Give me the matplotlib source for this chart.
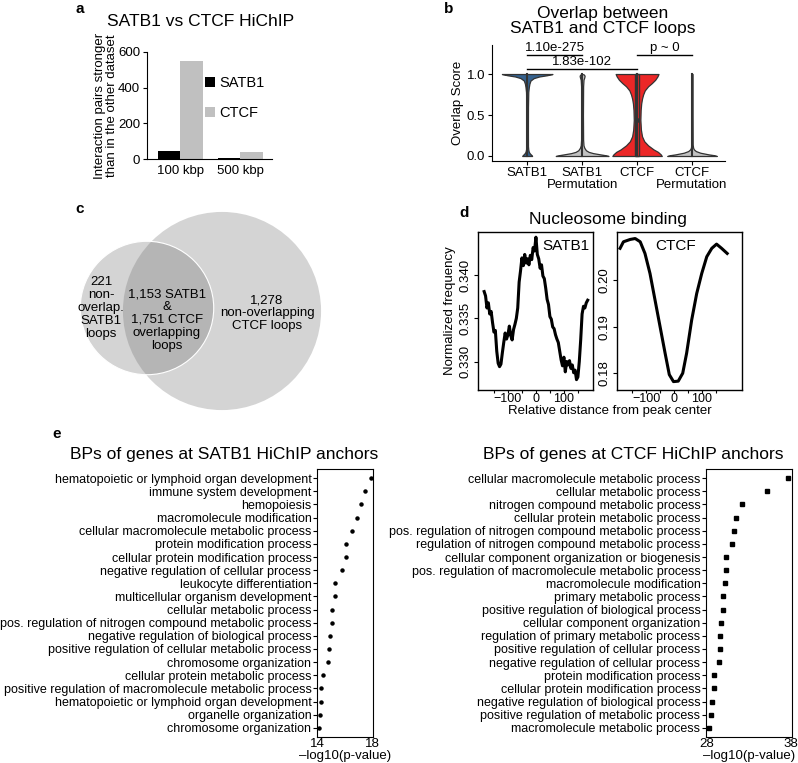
import numpy as np
import matplotlib
matplotlib.use("Agg")
import matplotlib.pyplot as plt
from matplotlib.patches import Circle, Rectangle

plt.rcParams['font.family'] = ['Liberation Sans', 'DejaVu Sans']

W, H = 798, 763

# ---- panel a data
size_labels = ["100 kbp", "500 kbp"]
satb1_stronger = [45, 4]
ctcf_stronger = [550, 40]

# ---- panel b data (violin outlines: y level, half width)
violin_names = ["SATB1", "SATB1\nPermutation", "CTCF", "CTCF\nPermutation"]
violin_colors = ["#34618e", "#c2c2c2", "#ec2727", "#c2c2c2"]
satb1_vy = [0.0, 0.01, 0.03, 0.05, 0.08, 0.12, 0.3, 0.6, 0.78, 0.84, 0.88, 0.92, 0.95, 0.97, 0.985, 1.0]
satb1_vw = [0.09, 0.08, 0.05, 0.03, 0.02, 0.015, 0.014, 0.015, 0.02, 0.03, 0.04, 0.06, 0.12, 0.22, 0.36, 0.46]
satb1p_vy = [0.0, 0.01, 0.02, 0.035, 0.05, 0.07, 0.1, 0.13, 0.2, 0.5, 0.85, 0.93, 0.96, 0.98, 0.995, 1.0]
satb1p_vw = [0.48, 0.42, 0.33, 0.2, 0.12, 0.07, 0.04, 0.025, 0.018, 0.015, 0.018, 0.025, 0.04, 0.045, 0.03, 0.0]
ctcf_vy = [0.0, 0.02, 0.05, 0.08, 0.13, 0.18, 0.24, 0.32, 0.44, 0.56, 0.64, 0.70, 0.75, 0.80, 0.85, 0.89, 0.93, 0.97, 1.0]
ctcf_vw = [0.45, 0.43, 0.38, 0.3, 0.2, 0.13, 0.09, 0.07, 0.06, 0.065, 0.075, 0.09, 0.11, 0.14, 0.2, 0.27, 0.33, 0.37, 0.39]
ctcfp_vy = [0.0, 0.01, 0.02, 0.04, 0.06, 0.08, 0.1, 0.14, 0.5, 1.0]
ctcfp_vw = [0.45, 0.4, 0.3, 0.15, 0.07, 0.035, 0.02, 0.012, 0.01, 0.01]
ctcf_median = 0.44
brackets = [(1, 2, 1.23, "1.10e-275"), (1, 3, 1.06, "1.83e-102"), (3, 4, 1.23, "p ~ 0")]

# ---- panel c data
satb1_only = 221
satb1_overlap = 1153
ctcf_overlap = 1751
ctcf_only = 1278

# ---- panel d data
satb1_pos = [-185, -180, -175, -170, -165, -160, -155, -150, -145, -140, -135, -130, -125, -120, -115,
             -110, -105, -100, -95, -90, -85, -80, -75, -70, -65, -60, -55, -50, -45, -40, -35, -30,
             -25, -20, -15, -10, -5, 0, 5, 10, 15, 20, 25, 30, 35, 40, 45, 50, 55, 60, 65, 70, 75, 80,
             85, 90, 95, 100, 105, 110, 115, 120, 125, 130, 135, 140, 145, 150, 155, 160, 165, 170,
             175, 180, 185]
satb1_freq = [0.3381, 0.3376, 0.3362, 0.3368, 0.3355, 0.3358, 0.3345, 0.3334, 0.3336, 0.3312, 0.3298,
              0.3294, 0.3297, 0.3310, 0.3322, 0.3333, 0.3326, 0.3331, 0.3341, 0.3330, 0.3325, 0.3337,
              0.3343, 0.3350, 0.3362, 0.3392, 0.3405, 0.3420, 0.3411, 0.3424, 0.3414, 0.3419, 0.3412,
              0.3423, 0.3418, 0.3432, 0.3428, 0.3444, 0.3424, 0.3419, 0.3408, 0.3412, 0.3399, 0.3396,
              0.3385, 0.3372, 0.3366, 0.3352, 0.3349, 0.3340, 0.3338, 0.3331, 0.3326, 0.3322, 0.3312,
              0.3302, 0.3295, 0.3305, 0.3288, 0.3300, 0.3296, 0.3301, 0.3292, 0.3296, 0.3287, 0.3290,
              0.3279, 0.3282, 0.3300, 0.3325, 0.3355, 0.3364, 0.3362, 0.3368, 0.3371]
ctcf_pos = [-193, -181, -157, -139, -121, -104, -86, -68, -50, -32, -17, -2, 15, 31, 45, 63, 81, 99,
            117, 135, 152, 170, 190]
ctcf_freq = [0.2068, 0.2082, 0.2087, 0.2089, 0.2082, 0.2057, 0.2014, 0.1957, 0.1900, 0.1843, 0.1797,
             0.1782, 0.1783, 0.1800, 0.1843, 0.1914, 0.1971, 0.2014, 0.2050, 0.2068, 0.2077, 0.2068,
             0.2057]

# ---- panel e data
satb1_terms = ["hematopoietic or lymphoid organ development", "immune system development",
               "hemopoiesis", "macromolecule modification",
               "cellular macromolecule metabolic process", "protein modification process",
               "cellular protein modification process", "negative regulation of cellular process",
               "leukocyte differentiation", "multicellular organism development",
               "cellular metabolic process", "pos. regulation of nitrogen compound metabolic process",
               "negative regulation of biological process",
               "positive regulation of cellular metabolic process", "chromosome organization",
               "cellular protein metabolic process",
               "positive regulation of macromolecule metabolic process",
               "hematopoietic or lymphoid organ development", "organelle organization",
               "chromosome organization"]
satb1_logp = [17.9, 17.5, 17.19, 16.9, 16.52, 16.07, 16.07, 15.76, 15.29, 15.24, 15.05, 15.05,
              14.88, 14.81, 14.76, 14.41, 14.26, 14.21, 14.16, 14.09]
ctcf_terms = ["cellular macromolecule metabolic process", "cellular metabolic process",
              "nitrogen compound metabolic process", "cellular protein metabolic process",
              "pos. regulation of nitrogen compound metabolic process",
              "regulation of nitrogen compound metabolic process",
              "cellular component organization or biogenesis",
              "pos. regulation of macromolecule metabolic process", "macromolecule modification",
              "primary metabolic process", "positive regulation of biological process",
              "cellular component organization", "regulation of primary metabolic process",
              "positive regulation of cellular process", "negative regulation of cellular process",
              "protein modification process", "cellular protein modification process",
              "negative regulation of biological process", "positive regulation of metabolic process",
              "macromolecule metabolic process"]
ctcf_logp = [37.57, 35.17, 32.15, 31.49, 31.17, 30.99, 30.33, 30.33, 30.21, 29.94, 29.94, 29.63,
             29.55, 29.55, 29.43, 28.85, 28.85, 28.58, 28.47, 28.27]

fig = plt.figure(figsize=(W / 100, H / 100), dpi=100)


def px_axes(x0, y0, x1, y1):
    return fig.add_axes([x0 / W, 1 - y1 / H, (x1 - x0) / W, (y1 - y0) / H])


def ftext(x, y, s, **kw):
    kw.setdefault("ha", "center")
    kw.setdefault("va", "center")
    fig.text(x / W, 1 - y / H, s, **kw)


# panel letters
for letter, lx, ly in [("a", 80, 9), ("b", 449, 9), ("c", 80, 209), ("d", 464, 213), ("e", 57, 434)]:
    ftext(lx, ly, letter, fontsize=11, fontweight="bold")

# ---------------- a
ax = px_axes(147, 52, 272, 159)
xa = np.arange(len(size_labels))
ax.bar(xa - 0.1875, satb1_stronger, 0.375, color="black", label="SATB1")
ax.bar(xa + 0.1875, ctcf_stronger, 0.375, color="#c0c0c0", label="CTCF")
ax.set_xlim(-0.55, 1.53)
ax.set_ylim(0, 600)
ax.set_yticks([0, 200, 400, 600])
ax.set_xticks(xa)
ax.set_xticklabels(size_labels)
ax.tick_params(axis="x", length=0, labelsize=9.5, pad=4)
ax.tick_params(axis="y", length=3, labelsize=9.5, pad=2)
for s in ["top", "right"]:
    ax.spines[s].set_visible(False)
ax.set_ylabel("Interaction pairs stronger\nthan in the other dataset", fontsize=9.5, labelpad=0,
              linespacing=0.95)
ax.legend(loc="center left", bbox_to_anchor=(0.46, 0.57), frameon=False, fontsize=10.5,
          handlelength=0.7, handleheight=0.7, handletextpad=0.3, labelspacing=1.1,
          borderpad=0, borderaxespad=0)
ftext(201, 21, "SATB1 vs CTCF HiChIP", fontsize=12.5)

# ---------------- b
ax = px_axes(492, 45, 725, 161)
profiles = [(satb1_vy, satb1_vw), (satb1p_vy, satb1p_vw), (ctcf_vy, ctcf_vw), (ctcfp_vy, ctcfp_vw)]
for i, (vy, vw) in enumerate(profiles):
    pos = i + 1
    vy = np.array(vy)
    vw = np.array(vw)
    ax.fill_betweenx(vy, pos - vw, pos + vw, facecolor=violin_colors[i], edgecolor="#333333",
                     linewidth=0.9, zorder=2)
    ax.plot([pos, pos], [vy.min(), vy.max()], color="#333333", lw=1.5, zorder=3)
# box of the CTCF violin
ax.add_patch(Rectangle((3 - 0.04, 0.0), 0.08, 1.0, fill=False, edgecolor="#333333", lw=1.0, zorder=4))
ax.plot([3], [ctcf_median], "o", color="#333333", ms=2.5, zorder=5)
for x0, x1, yb, lab in brackets:
    ax.plot([x0, x1], [yb, yb], color="black", lw=1.0)
    ax.text((x0 + x1) / 2, yb + 0.01, lab, ha="center", va="bottom", fontsize=9.5)
ax.set_xlim(0.36, 4.6)
ax.set_ylim(-0.061, 1.354)
ax.set_yticks([0.0, 0.5, 1.0])
ax.set_yticklabels(["0.0", "0.5", "1.0"])
ax.set_xticks([1, 2, 3, 4])
ax.set_xticklabels(violin_names, linespacing=1.0)
ax.tick_params(axis="both", labelsize=9.5, length=3, pad=2)
ax.tick_params(axis="x", pad=1)
for s in ["top", "right"]:
    ax.spines[s].set_visible(False)
ax.set_ylabel("Overlap Score", fontsize=9.5, labelpad=2)
ftext(603, 21, "Overlap between\nSATB1 and CTCF loops", fontsize=12.5, linespacing=1.05)

# ---------------- c
ax = px_axes(60, 195, 340, 420)
ax.set_xlim(60, 340)
ax.set_ylim(420, 195)
ax.axis("off")
k = 1.8
r_small = k * np.sqrt(satb1_only + satb1_overlap)
r_big = k * np.sqrt(ctcf_overlap + ctcf_only)
ax.add_patch(Circle((147, 308), r_small, facecolor="#6b6b6b", alpha=0.29, edgecolor="none"))
ax.add_patch(Circle((222, 311), r_big, facecolor="#6b6b6b", alpha=0.29, edgecolor="none"))
ax.add_patch(Circle((147, 308), r_small, fill=False, edgecolor="white", lw=0.8))
ax.text(101, 308, f"{satb1_only}\nnon-\noverlap.\nSATB1\nloops", ha="center", va="center",
        fontsize=9.5, linespacing=1.1)
ax.text(167, 320, f"{satb1_overlap:,} SATB1\n&\n{ctcf_overlap:,} CTCF\noverlapping\nloops",
        ha="center", va="center", fontsize=9.5, linespacing=1.1)
ax.text(267, 313, f"{ctcf_only:,}\nnon-overlapping\nCTCF loops", ha="center", va="center",
        fontsize=9.5, linespacing=1.1)

# ---------------- d
axl = px_axes(478, 232, 593, 390)
axl.plot(satb1_pos, satb1_freq, color="black", lw=2.2)
axl.set_xlim(-207, 204)
axl.set_ylim(0.3267, 0.345)
axl.set_yticks([0.330, 0.335, 0.340])
axl.set_yticklabels(["0.330", "0.335", "0.340"], rotation=90, va="center")
axl.text(0.97, 0.91, "SATB1", transform=axl.transAxes, ha="right", va="center", fontsize=11)
axr = px_axes(617, 232, 742, 390)
axr.plot(ctcf_pos, ctcf_freq, color="black", lw=2.2)
axr.set_xlim(-204, 243)
axr.set_ylim(0.1764, 0.2103)
axr.set_yticks([0.18, 0.19, 0.20])
axr.set_yticklabels(["0.18", "0.19", "0.20"], rotation=90, va="center")
axr.text(0.47, 0.91, "CTCF", transform=axr.transAxes, ha="center", va="center", fontsize=11)
for a in (axl, axr):
    a.set_xticks([-150, -100, -50, 0, 50, 100, 150])
    a.set_xticklabels(["", "\u2212100", "", "0", "", "100", ""])
    a.tick_params(axis="y", labelsize=9.5, length=3, pad=2)
    a.tick_params(axis="x", labelsize=9, length=2, pad=0.5)
    for s in a.spines.values():
        s.set_linewidth(1.0)
axl.set_ylabel("Normalized frequency", fontsize=9.5, labelpad=2)
ftext(608, 220, "Nucleosome binding", fontsize=12.5)
ftext(610, 411, "Relative distance from peak center", fontsize=9.5)

# ---------------- e
panels_e = [
    ((317, 469, 373, 737), satb1_terms, satb1_logp, (13.95, 18.05), [14, 18], "o", 224,
     "BPs of genes at SATB1 HiChIP anchors"),
    ((706, 469, 792, 737), ctcf_terms, ctcf_logp, (27.9, 38.1), [28, 38], "s", 633,
     "BPs of genes at CTCF HiChIP anchors"),
]
for box, terms, vals, xl, xt, mk, tx, title in panels_e:
    ax = px_axes(*box)
    rows = np.arange(len(terms))
    ax.plot(vals, rows, mk, color="black", ms=2.2, linestyle="none")
    ax.set_ylim(19.7, -0.7)
    ax.set_xlim(*xl)
    ax.set_yticks(rows)
    ax.set_yticklabels(terms)
    ax.set_xticks(xt)
    ax.tick_params(axis="y", labelsize=9, length=3, pad=1)
    ax.tick_params(axis="x", labelsize=9.5, length=0, pad=1)
    ax.set_xlabel("\u2013log10(p-value)", fontsize=9.5, labelpad=0)
    ftext(tx, 455, title, fontsize=12.5)

fig.savefig("out.png", dpi=100)
